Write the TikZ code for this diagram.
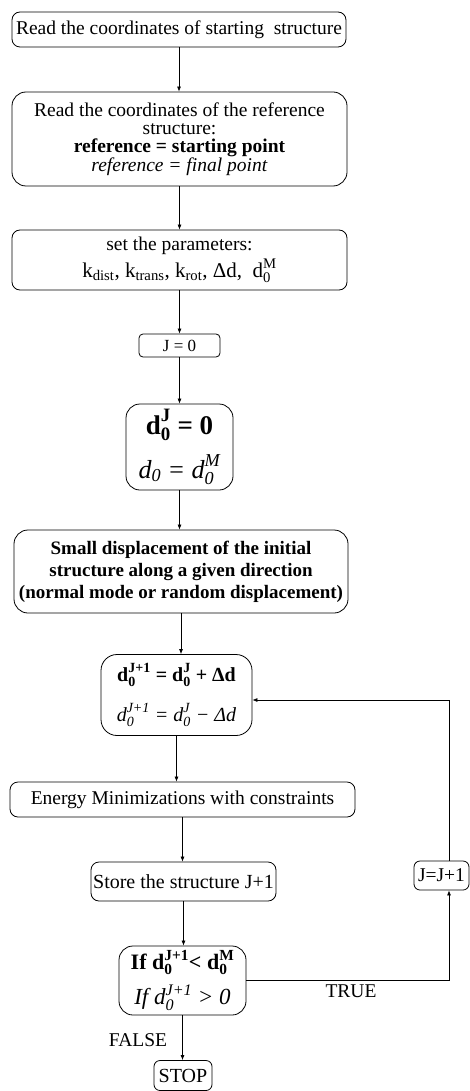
\documentclass[tikz,border=0pt]{standalone}
\usepackage{amsmath}
\usepackage{fontspec}
\setmainfont{Liberation Serif}
\usetikzlibrary{arrows.meta,calc}
\newcommand\fs[2]{\fontsize{#1}{#2}\selectfont}
\newcommand\dz[1]{\ensuremath{\text{d}_{\text{0}}^{\text{#1}}}}
\begin{document}
\begin{tikzpicture}[x=1pt,y=-1pt,
  box/.style={draw, line width=0.8pt, rounded corners=8pt, inner sep=0pt, align=center},
  arr/.style={line width=0.7pt, -{Latex[length=5pt,width=4pt]}},
  lbl/.style={inner sep=0pt, font=\fs{19.5}{22}}]
\useasboundingbox (0,0) rectangle (470,1091);
\node[box, minimum width=334pt, minimum height=35pt, font=\fs{19.5}{22}] (b1) at (179,29.5)
  {Read the coordinates of starting\ \ structure};
\node[box, rounded corners=14pt, minimum width=335pt, minimum height=94pt, font=\fs{19.5}{18.3}] (b2) at (179.5,139)
  {Read the coordinates of the reference\\ structure:\\ \textbf{reference = starting point}\\ \textit{reference = final point}};
\node[box, minimum width=335pt, minimum height=60pt, font=\fs{19.5}{27}] (b3) at (179.5,260)
  {set the parameters:\\ \fs{21}{27}k\textsubscript{dist}, k\textsubscript{trans}, k\textsubscript{rot}, Δd,\ \ \dz{M}};
\node[box, rounded corners=4pt, minimum width=81pt, minimum height=23pt, font=\fs{17}{19}] (b4) at (179.5,345.5)
  {J = 0};
\node[box, rounded corners=14pt, minimum width=107pt, minimum height=86pt, font=\fs{27}{44}] (b5) at (179.5,447)
  {\textbf{\dz{J} = 0}\\ \fs{26}{44}\textit{d\textsubscript{0} = \dz{M}}};
\node[box, rounded corners=14pt, minimum width=334pt, minimum height=83pt, font=\bfseries\fs{19}{22}] (b6) at (181,571.5)
  {Small displacement of the initial\\ structure along a given direction\\ (normal mode or random displacement)};
\node[box, rounded corners=16pt, minimum width=151pt, minimum height=81pt, font=\fs{20}{40}] (b7) at (176.5,695)
  {\textbf{\dz{J+1} = \dz{J} + Δd}\\ \textit{\dz{J+1} = \dz{J} − Δd}};
\node[box, minimum width=345pt, minimum height=35pt, font=\fs{19.5}{22}] (b8) at (182.5,799.5)
  {Energy Minimizations with constraints};
\node[box, minimum width=185pt, minimum height=39pt, font=\fs{20}{22}] (b9) at (183.5,881.5)
  {Store the structure J+1};
\node[box, rounded corners=14pt, minimum width=127pt, minimum height=69pt, font=\fs{22}{35}] (b10) at (182.5,980.5)
  {\textbf{If \dz{J+1}< \dz{M}}\\ \fs{23}{35}\textit{If \dz{J+1} > 0}};
\node[box, rounded corners=6pt, minimum width=58pt, minimum height=30pt, font=\fs{20}{22}] (stop) at (183,1075.5)
  {STOP};
\node[box, rounded corners=6pt, minimum width=55pt, minimum height=29pt, font=\fs{19.5}{22}] (jj) at (441.5,875.5)
  {J=J+1};
\draw[arr] (b1.south) -- (b1.south |- b2.north);
\draw[arr] (b2.south) -- (b2.south |- b3.north);
\draw[arr] (b3.south) -- (b3.south |- b4.north);
\draw[arr] (b4.south) -- (b4.south |- b5.north);
\draw[arr] (b5.south) -- (b5.south |- b6.north);
\draw[arr] (b6.south) -- (b6.south |- b7.north);
\draw[arr] (b7.south) -- (b7.south |- b8.north);
\draw[arr] (b8.south) -- (b8.south |- b9.north);
\draw[arr] (b9.south) -- (b9.south |- b10.north);
\draw[arr] (b10.south) -- (b10.south |- stop.north);
\coordinate (jb) at ([xshift=7.5pt]jj.south);
\coordinate (jt) at ([xshift=7.5pt]jj.north);
\coordinate (b7e) at ([yshift=-5pt]b7.east);
\draw[arr] (b10.east) -| (jb);
\draw[arr] (jt) |- (b7e);
\node[lbl] (true) at (351,991) {TRUE};
\node[lbl] (false) at (138,1040) {FALSE};
\end{tikzpicture}
\end{document}
